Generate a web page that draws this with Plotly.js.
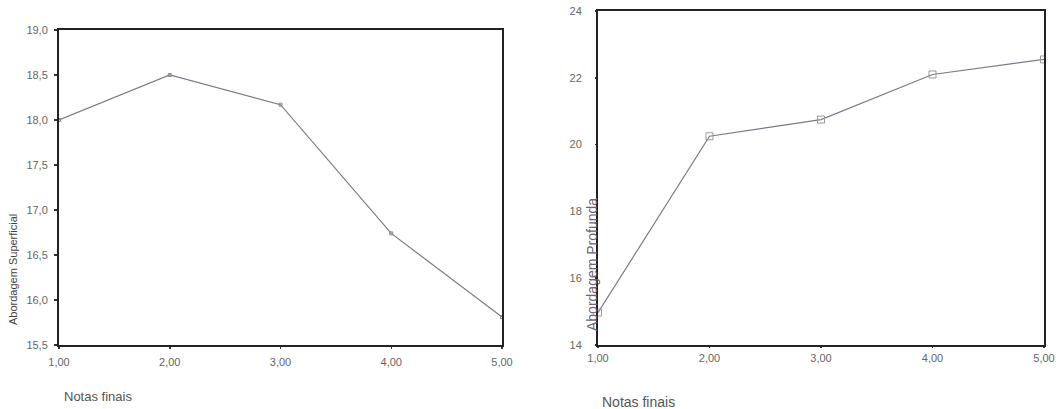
<!DOCTYPE html>
<html>
<head>
<meta charset="utf-8">
<script src="https://cdn.plot.ly/plotly-3.0.1.min.js"></script>
<style>html,body{margin:0;padding:0;background:#fff;}#chart{width:1060px;height:409px;}</style>
</head>
<body>
<div id="chart"></div>
<script>
// Data
const notas = [1, 2, 3, 4, 5];
const xTickLabels = ["1,00", "2,00", "3,00", "4,00", "5,00"];
const superficial = [18.0, 18.5, 18.17, 16.74, 15.81];
const profunda = [14.97, 20.25, 20.75, 22.1, 22.55];
const leftYTicks = [15.5, 16.0, 16.5, 17.0, 17.5, 18.0, 18.5, 19.0];
const leftYLabels = ["15,5", "16,0", "16,5", "17,0", "17,5", "18,0", "18,5", "19,0"];
const rightYTicks = [14, 16, 18, 20, 22, 24];
const rightYLabels = ["14", "16", "18", "20", "22", "24"];

const W = 1060, H = 409;
const fam = "Liberation Sans, Arial, sans-serif";
const tickFont = {family: fam, size: 11, color: "#666"};
const lineCol = "#7a7a8c";

const traces = [
  {x: notas, y: superficial, xaxis: "x", yaxis: "y", mode: "lines+markers",
   line: {color: lineCol, width: 1.2},
   marker: {symbol: "square-open", size: 3, color: "#888", line: {width: 1}},
   hoverinfo: "x+y"},
  {x: notas, y: profunda, xaxis: "x2", yaxis: "y2", mode: "lines+markers",
   line: {color: lineCol, width: 1.2},
   marker: {symbol: "square-open", size: 7, color: "#999", line: {width: 1}},
   hoverinfo: "x+y"}
];

const axBase = {
  showline: true, mirror: true, linecolor: "#222", linewidth: 2,
  showgrid: false, zeroline: false, ticks: "outside", ticklen: 3, tickwidth: 1.5,
  tickcolor: "#333", tickfont: tickFont, fixedrange: true
};

const layout = {
  width: W, height: H,
  margin: {l: 0, r: 0, t: 0, b: 0},
  paper_bgcolor: "#fff", plot_bgcolor: "#fff",
  showlegend: false,
  font: tickFont,
  xaxis: Object.assign({}, axBase, {domain: [59 / W, 502 / W], range: [1, 5],
    tickvals: notas, ticktext: xTickLabels, anchor: "y", ticklen: 2, ticklabelstandoff: 4}),
  yaxis: Object.assign({}, axBase, {domain: [1 - 345 / H, 1 - 30 / H], range: [15.5, 19],
    tickvals: leftYTicks, ticktext: leftYLabels, anchor: "x", ticklabelstandoff: 4}),
  xaxis2: Object.assign({}, axBase, {domain: [598 / W, 1044 / W], range: [1, 5],
    tickvals: notas, ticktext: xTickLabels, anchor: "y2", ticklen: 1, ticklabelstandoff: 1}),
  yaxis2: Object.assign({}, axBase, {domain: [1 - 345 / H, 1 - 11 / H], range: [14, 24],
    tickvals: rightYTicks, ticktext: rightYLabels, anchor: "x2", ticklen: 1, ticklabelstandoff: 11}),
  annotations: [
    {text: "Notas finais", xref: "paper", yref: "paper", x: 62 / W, y: 1 - 396 / H,
     xanchor: "left", yanchor: "middle", showarrow: false,
     font: {family: fam, size: 13, color: "#555"}},
    {text: "Notas finais", xref: "paper", yref: "paper", x: 600 / W, y: 1 - 402 / H,
     xanchor: "left", yanchor: "middle", showarrow: false,
     font: {family: fam, size: 14, color: "#555"}},
    {text: "Abordagem Superficial", xref: "paper", yref: "paper", x: 13 / W, y: 1 - 270 / H,
     xanchor: "center", yanchor: "middle", textangle: -90, showarrow: false,
     font: {family: fam, size: 11, color: "#444"}},
    {text: "Abordagem Profunda", xref: "paper", yref: "paper", x: 592 / W, y: 1 - 265 / H,
     xanchor: "center", yanchor: "middle", textangle: -90, showarrow: false,
     font: {family: fam, size: 14, color: "#6a6478"}}
  ]
};

Plotly.newPlot("chart", traces, layout, {displayModeBar: false, staticPlot: true});
</script>
</body>
</html>
